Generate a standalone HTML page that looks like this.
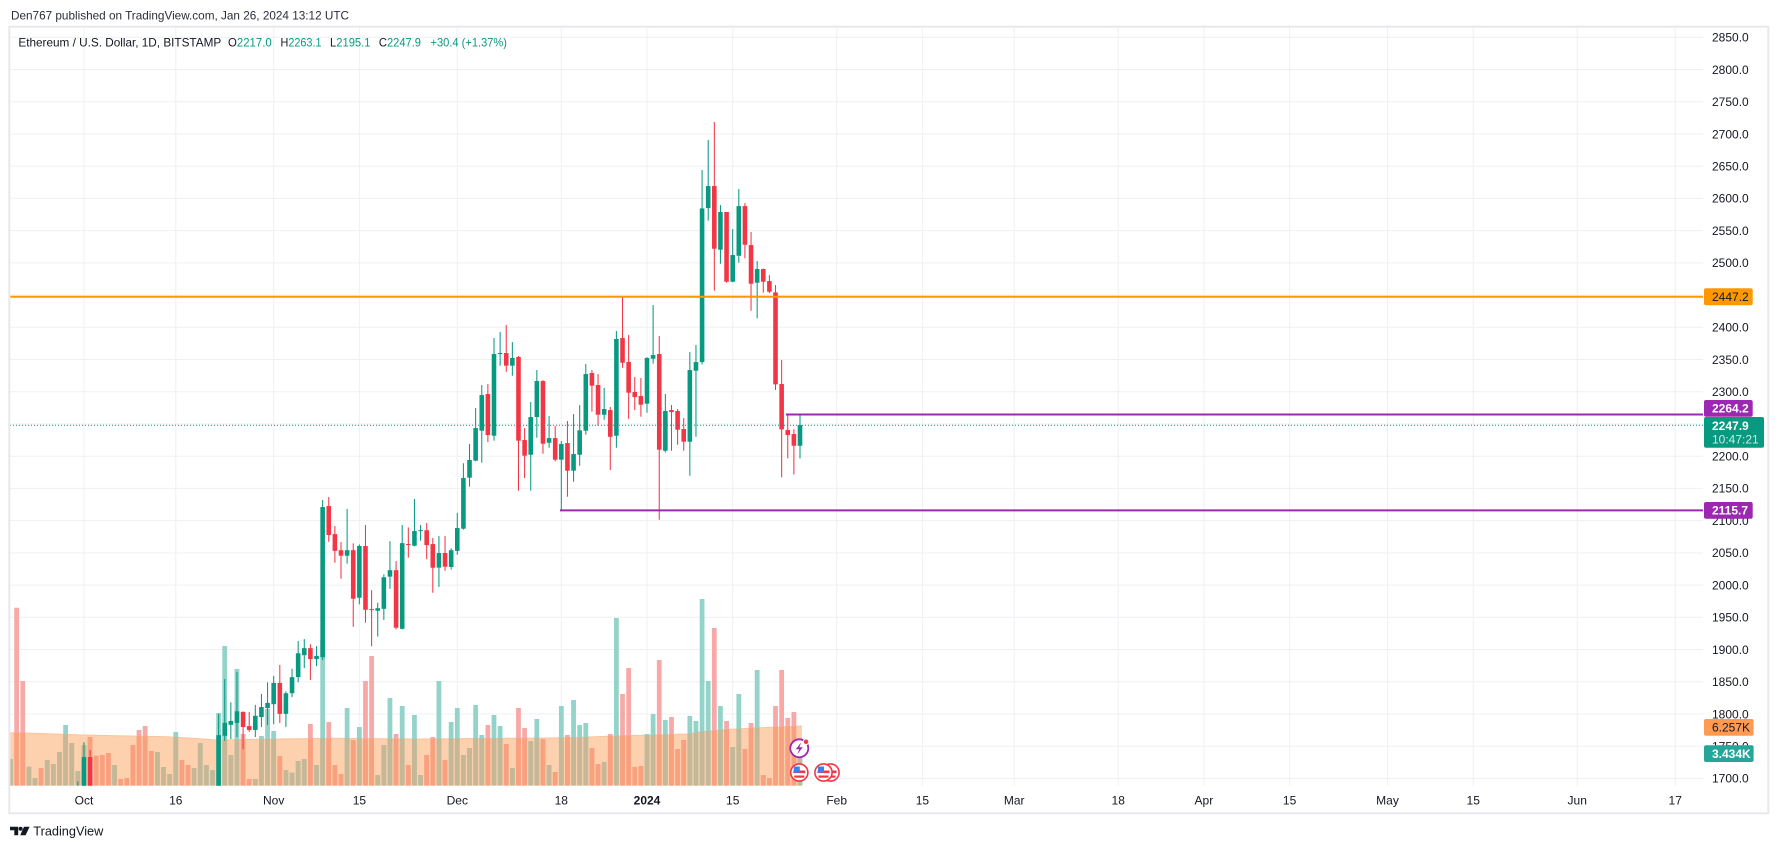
<!DOCTYPE html>
<html><head><meta charset="utf-8"><title>ETHUSD chart</title>
<style>html,body{margin:0;padding:0;background:#fff;width:1778px;height:849px;overflow:hidden}svg{display:block}</style>
</head><body>
<svg xmlns="http://www.w3.org/2000/svg" width="1778" height="849" viewBox="0 0 1778 849" font-family="'Liberation Sans', Arial, sans-serif">
<defs>
<clipPath id="plot"><rect x="10.3" y="27.7" width="1692.7" height="758"/></clipPath>
<clipPath id="areaClip"><polygon points="10,732.7 40,733.5 83,735 130,736 167,736.7 207,739.3 216,740 260,739.3 300,738.7 330,738.3 380,738.8 420,739 480,738.5 553,738 590,737 613,736 653,735 687,734 700,732 720,730 753,728 780,727 802,726 802,785.7 10,785.7"/></clipPath>
<g id="vT" transform="matrix(6.12,0,0,1,800,0)">
<rect x="-129.39" y="759" width=".78" height="26.7"/><rect x="-126.39" y="766.7" width=".78" height="19"/><rect x="-125.39" y="778" width=".78" height="7.7"/><rect x="-123.39" y="760" width=".78" height="25.7"/><rect x="-122.39" y="764" width=".78" height="21.7"/><rect x="-121.39" y="752" width=".78" height="33.7"/><rect x="-120.39" y="725" width=".78" height="60.7"/><rect x="-119.39" y="743" width=".78" height="42.7"/><rect x="-118.39" y="771" width=".78" height="14.7"/><rect x="-117.39" y="745" width=".78" height="40.7"/><rect x="-112.39" y="765" width=".78" height="20.7"/><rect x="-105.39" y="752" width=".78" height="33.7"/><rect x="-104.39" y="767" width=".78" height="18.7"/><rect x="-103.39" y="774" width=".78" height="11.7"/><rect x="-102.39" y="732" width=".78" height="53.7"/><rect x="-99.39" y="768" width=".78" height="17.7"/><rect x="-98.39" y="743" width=".78" height="42.7"/><rect x="-97.39" y="765" width=".78" height="20.7"/><rect x="-96.39" y="770" width=".78" height="15.7"/><rect x="-95.39" y="713" width=".78" height="72.7"/><rect x="-94.39" y="646" width=".78" height="139.7"/><rect x="-93.39" y="755" width=".78" height="30.7"/><rect x="-92.39" y="669" width=".78" height="116.7"/><rect x="-89.39" y="779" width=".78" height="6.7"/><rect x="-88.39" y="736" width=".78" height="49.7"/><rect x="-87.39" y="709" width=".78" height="76.7"/><rect x="-86.39" y="731" width=".78" height="54.7"/><rect x="-84.39" y="770" width=".78" height="15.7"/><rect x="-83.39" y="772.7" width=".78" height="13"/><rect x="-82.39" y="761" width=".78" height="24.7"/><rect x="-81.39" y="759" width=".78" height="26.7"/><rect x="-79.39" y="765" width=".78" height="20.7"/><rect x="-78.39" y="640" width=".78" height="145.7"/><rect x="-74.39" y="708" width=".78" height="77.7"/><rect x="-72.39" y="727" width=".78" height="58.7"/><rect x="-69.39" y="775" width=".78" height="10.7"/><rect x="-68.39" y="745" width=".78" height="40.7"/><rect x="-67.39" y="698" width=".78" height="87.7"/><rect x="-65.39" y="706" width=".78" height="79.7"/><rect x="-63.39" y="715" width=".78" height="70.7"/><rect x="-62.39" y="775" width=".78" height="10.7"/><rect x="-59.39" y="681" width=".78" height="104.7"/><rect x="-57.39" y="722" width=".78" height="63.7"/><rect x="-56.39" y="708" width=".78" height="77.7"/><rect x="-55.39" y="755" width=".78" height="30.7"/><rect x="-54.39" y="748" width=".78" height="37.7"/><rect x="-53.39" y="705" width=".78" height="80.7"/><rect x="-52.39" y="735" width=".78" height="50.7"/><rect x="-50.39" y="715" width=".78" height="70.7"/><rect x="-49.39" y="726" width=".78" height="59.7"/><rect x="-47.39" y="768" width=".78" height="17.7"/><rect x="-44.39" y="741" width=".78" height="44.7"/><rect x="-43.39" y="719" width=".78" height="66.7"/><rect x="-41.39" y="765" width=".78" height="20.7"/><rect x="-39.39" y="706" width=".78" height="79.7"/><rect x="-37.39" y="700" width=".78" height="85.7"/><rect x="-36.39" y="725" width=".78" height="60.7"/><rect x="-35.39" y="723" width=".78" height="62.7"/><rect x="-32.39" y="762" width=".78" height="23.7"/><rect x="-30.39" y="618" width=".78" height="167.7"/><rect x="-25.39" y="734" width=".78" height="51.7"/><rect x="-24.39" y="714" width=".78" height="71.7"/><rect x="-22.39" y="720" width=".78" height="65.7"/><rect x="-18.39" y="716" width=".78" height="69.7"/><rect x="-17.39" y="721" width=".78" height="64.7"/><rect x="-16.39" y="599" width=".78" height="186.7"/><rect x="-15.39" y="681" width=".78" height="104.7"/><rect x="-13.39" y="706" width=".78" height="79.7"/><rect x="-11.39" y="747" width=".78" height="38.7"/><rect x="-10.39" y="694" width=".78" height="91.7"/><rect x="-7.39" y="670" width=".78" height="115.7"/><rect x="-0.39" y="753.5" width=".78" height="32.2"/>
</g>
<g id="vR" transform="matrix(6.12,0,0,1,800,0)">
<rect x="-128.39" y="607.7" width=".78" height="178"/><rect x="-127.39" y="681" width=".78" height="104.7"/><rect x="-124.39" y="768" width=".78" height="17.7"/><rect x="-116.39" y="737" width=".78" height="48.7"/><rect x="-115.39" y="755.7" width=".78" height="30"/><rect x="-114.39" y="755" width=".78" height="30.7"/><rect x="-113.39" y="753" width=".78" height="32.7"/><rect x="-111.39" y="779" width=".78" height="6.7"/><rect x="-110.39" y="778" width=".78" height="7.7"/><rect x="-109.39" y="745" width=".78" height="40.7"/><rect x="-108.39" y="730" width=".78" height="55.7"/><rect x="-107.39" y="726" width=".78" height="59.7"/><rect x="-106.39" y="751" width=".78" height="34.7"/><rect x="-101.39" y="760" width=".78" height="25.7"/><rect x="-100.39" y="765" width=".78" height="20.7"/><rect x="-91.39" y="734" width=".78" height="51.7"/><rect x="-90.39" y="779" width=".78" height="6.7"/><rect x="-85.39" y="756" width=".78" height="29.7"/><rect x="-80.39" y="724" width=".78" height="61.7"/><rect x="-77.39" y="722" width=".78" height="63.7"/><rect x="-76.39" y="765" width=".78" height="20.7"/><rect x="-75.39" y="774" width=".78" height="11.7"/><rect x="-73.39" y="740" width=".78" height="45.7"/><rect x="-71.39" y="681" width=".78" height="104.7"/><rect x="-70.39" y="656" width=".78" height="129.7"/><rect x="-66.39" y="734" width=".78" height="51.7"/><rect x="-64.39" y="765" width=".78" height="20.7"/><rect x="-61.39" y="755" width=".78" height="30.7"/><rect x="-60.39" y="737" width=".78" height="48.7"/><rect x="-58.39" y="760" width=".78" height="25.7"/><rect x="-51.39" y="725" width=".78" height="60.7"/><rect x="-48.39" y="744" width=".78" height="41.7"/><rect x="-46.39" y="708" width=".78" height="77.7"/><rect x="-45.39" y="728" width=".78" height="57.7"/><rect x="-42.39" y="739" width=".78" height="46.7"/><rect x="-40.39" y="772" width=".78" height="13.7"/><rect x="-38.39" y="735" width=".78" height="50.7"/><rect x="-34.39" y="748" width=".78" height="37.7"/><rect x="-33.39" y="764" width=".78" height="21.7"/><rect x="-31.39" y="734" width=".78" height="51.7"/><rect x="-29.39" y="694" width=".78" height="91.7"/><rect x="-28.39" y="668" width=".78" height="117.7"/><rect x="-27.39" y="767" width=".78" height="18.7"/><rect x="-26.39" y="766" width=".78" height="19.7"/><rect x="-23.39" y="660" width=".78" height="125.7"/><rect x="-21.39" y="717" width=".78" height="68.7"/><rect x="-20.39" y="749" width=".78" height="36.7"/><rect x="-19.39" y="740" width=".78" height="45.7"/><rect x="-14.39" y="628" width=".78" height="157.7"/><rect x="-12.39" y="721" width=".78" height="64.7"/><rect x="-9.39" y="749" width=".78" height="36.7"/><rect x="-8.39" y="723" width=".78" height="62.7"/><rect x="-6.39" y="775" width=".78" height="10.7"/><rect x="-5.39" y="778" width=".78" height="7.7"/><rect x="-4.39" y="706" width=".78" height="79.7"/><rect x="-3.39" y="670" width=".78" height="115.7"/><rect x="-2.39" y="718" width=".78" height="67.7"/><rect x="-1.39" y="712" width=".78" height="73.7"/>
</g>
</defs>

<rect x="0" y="0" width="1778" height="849" fill="#ffffff"/>

<!-- header -->
<text x="11" y="19.3" font-size="12" fill="#2a2e39" textLength="338" lengthAdjust="spacingAndGlyphs">Den767 published on TradingView.com, Jan 26, 2024 13:12 UTC</text>

<!-- grid -->
<g stroke="#eef0f4" stroke-width="1">
<line x1="10" x2="1703" y1="37.3" y2="37.3"/><line x1="10" x2="1703" y1="69.5" y2="69.5"/><line x1="10" x2="1703" y1="101.8" y2="101.8"/><line x1="10" x2="1703" y1="134" y2="134"/><line x1="10" x2="1703" y1="166.2" y2="166.2"/><line x1="10" x2="1703" y1="198.4" y2="198.4"/><line x1="10" x2="1703" y1="230.6" y2="230.6"/><line x1="10" x2="1703" y1="262.9" y2="262.9"/><line x1="10" x2="1703" y1="295.1" y2="295.1"/><line x1="10" x2="1703" y1="327.3" y2="327.3"/><line x1="10" x2="1703" y1="359.5" y2="359.5"/><line x1="10" x2="1703" y1="391.7" y2="391.7"/><line x1="10" x2="1703" y1="424" y2="424"/><line x1="10" x2="1703" y1="456.2" y2="456.2"/><line x1="10" x2="1703" y1="488.4" y2="488.4"/><line x1="10" x2="1703" y1="520.6" y2="520.6"/><line x1="10" x2="1703" y1="552.9" y2="552.9"/><line x1="10" x2="1703" y1="585.1" y2="585.1"/><line x1="10" x2="1703" y1="617.3" y2="617.3"/><line x1="10" x2="1703" y1="649.5" y2="649.5"/><line x1="10" x2="1703" y1="681.7" y2="681.7"/><line x1="10" x2="1703" y1="714" y2="714"/><line x1="10" x2="1703" y1="746.2" y2="746.2"/><line x1="10" x2="1703" y1="778.4" y2="778.4"/>
<line x1="84" x2="84" y1="27.7" y2="785.7"/><line x1="175.8" x2="175.8" y1="27.7" y2="785.7"/><line x1="273.7" x2="273.7" y1="27.7" y2="785.7"/><line x1="359.4" x2="359.4" y1="27.7" y2="785.7"/><line x1="457.3" x2="457.3" y1="27.7" y2="785.7"/><line x1="561.3" x2="561.3" y1="27.7" y2="785.7"/><line x1="647" x2="647" y1="27.7" y2="785.7"/><line x1="732.7" x2="732.7" y1="27.7" y2="785.7"/><line x1="836.7" x2="836.7" y1="27.7" y2="785.7"/><line x1="922.4" x2="922.4" y1="27.7" y2="785.7"/><line x1="1014.2" x2="1014.2" y1="27.7" y2="785.7"/><line x1="1118.2" x2="1118.2" y1="27.7" y2="785.7"/><line x1="1203.9" x2="1203.9" y1="27.7" y2="785.7"/><line x1="1289.6" x2="1289.6" y1="27.7" y2="785.7"/><line x1="1387.5" x2="1387.5" y1="27.7" y2="785.7"/><line x1="1473.2" x2="1473.2" y1="27.7" y2="785.7"/><line x1="1577.2" x2="1577.2" y1="27.7" y2="785.7"/><line x1="1675.2" x2="1675.2" y1="27.7" y2="785.7"/>
</g>

<!-- legend -->
<g font-size="12">
<text x="18.4" y="46.6" fill="#131722" textLength="202.8" lengthAdjust="spacingAndGlyphs">Ethereum / U.S. Dollar, 1D, BITSTAMP</text>
<text x="228" y="46.6" fill="#131722" textLength="43.7" lengthAdjust="spacingAndGlyphs">O<tspan fill="#089981">2217.0</tspan></text>
<text x="280.5" y="46.6" fill="#131722" textLength="41" lengthAdjust="spacingAndGlyphs">H<tspan fill="#089981">2263.1</tspan></text>
<text x="330" y="46.6" fill="#131722" textLength="40.5" lengthAdjust="spacingAndGlyphs">L<tspan fill="#089981">2195.1</tspan></text>
<text x="378.9" y="46.6" fill="#131722" textLength="42.1" lengthAdjust="spacingAndGlyphs">C<tspan fill="#089981">2247.9</tspan></text>
<text x="430.5" y="46.6" fill="#089981" textLength="76.5" lengthAdjust="spacingAndGlyphs">+30.4 (+1.37%)</text>
</g>

<g clip-path="url(#plot)">
<!-- volume MA area -->
<polygon points="10,732.7 40,733.5 83,735 130,736 167,736.7 207,739.3 216,740 260,739.3 300,738.7 330,738.3 380,738.8 420,739 480,738.5 553,738 590,737 613,736 653,735 687,734 700,732 720,730 753,728 780,727 802,726 802,785.7 10,785.7" fill="#fdd1ae"/>
<polyline points="10,732.7 40,733.5 83,735 130,736 167,736.7 207,739.3 216,740 260,739.3 300,738.7 330,738.3 380,738.8 420,739 480,738.5 553,738 590,737 613,736 653,735 687,734 700,732 720,730 753,728 780,727 802,726" fill="none" stroke="#fbc39a" stroke-width="1"/>
<!-- volume bars -->
<use href="#vT" fill="#93d3c9"/>
<use href="#vR" fill="#f7a9a7"/>
<g clip-path="url(#areaClip)">
<use href="#vT" fill="#c6b796"/>
<use href="#vR" fill="#f9a07e"/>
</g>

<!-- candles -->
<g transform="matrix(6.12,0,0,-0.6443,800,1873.6)">
<g fill="#089981">
<rect x="-118.085" y="1650" width=".17" height="45"/>
<rect x="-117.085" y="1665" width=".17" height="91"/><rect x="-117.375" y="1671" width=".75" height="62"/>
<rect x="-95.085" y="1655" width=".17" height="145"/><rect x="-95.375" y="1662" width=".75" height="105"/>
<rect x="-94.085" y="1758" width=".17" height="96"/><rect x="-94.375" y="1766" width=".75" height="20"/>
<rect x="-93.085" y="1761" width=".17" height="57"/><rect x="-93.375" y="1783" width=".75" height="6"/>
<rect x="-92.085" y="1764" width=".17" height="101"/><rect x="-92.375" y="1786" width=".75" height="18"/>
<rect x="-89.085" y="1764" width=".17" height="50"/><rect x="-89.375" y="1775" width=".75" height="22"/>
<rect x="-88.085" y="1779.5" width=".17" height="51.5"/><rect x="-88.375" y="1795" width=".75" height="15.6"/>
<rect x="-87.085" y="1782.6" width=".17" height="66.4"/><rect x="-87.375" y="1809" width=".75" height="8"/>
<rect x="-86.085" y="1784" width=".17" height="75"/><rect x="-86.375" y="1815" width=".75" height="33"/>
<rect x="-84.085" y="1779.5" width=".17" height="55.5"/><rect x="-84.375" y="1800" width=".75" height="32"/>
<rect x="-83.085" y="1826" width=".17" height="44"/><rect x="-83.375" y="1832" width=".75" height="25"/>
<rect x="-82.085" y="1849" width=".17" height="64"/><rect x="-82.375" y="1857" width=".75" height="37"/>
<rect x="-81.085" y="1871" width=".17" height="45"/><rect x="-81.375" y="1891" width=".75" height="11"/>
<rect x="-79.085" y="1874" width=".17" height="31"/><rect x="-79.375" y="1885" width=".75" height="5"/>
<rect x="-78.085" y="1883.5" width=".17" height="248.5"/><rect x="-78.375" y="1888" width=".75" height="233"/>
<rect x="-74.085" y="2033" width=".17" height="85"/><rect x="-74.375" y="2045.5" width=".75" height="8.5"/>
<rect x="-72.085" y="1970" width=".17" height="93"/><rect x="-72.375" y="1980.3" width=".75" height="80.2"/>
<rect x="-69.085" y="1920" width=".17" height="52.5"/><rect x="-69.375" y="1960" width=".75" height="4"/>
<rect x="-68.085" y="1945.6" width=".17" height="70.9"/><rect x="-68.375" y="1963" width=".75" height="49"/>
<rect x="-67.085" y="1994" width=".17" height="74"/><rect x="-67.375" y="2013" width=".75" height="10"/>
<rect x="-65.085" y="1931" width=".17" height="162"/><rect x="-65.375" y="1932" width=".75" height="133"/>
<rect x="-63.085" y="2060" width=".17" height="73.4"/><rect x="-63.375" y="2061" width=".75" height="22.7"/>
<rect x="-62.085" y="2068.7" width=".17" height="24.3"/><rect x="-62.375" y="2083.5" width=".75" height="1.6"/>
<rect x="-59.085" y="1997" width=".17" height="79"/><rect x="-59.375" y="2027" width=".75" height="22.6"/>
<rect x="-57.085" y="2024" width=".17" height="33"/><rect x="-57.375" y="2028" width=".75" height="26"/>
<rect x="-56.085" y="2047" width=".17" height="65"/><rect x="-56.375" y="2053" width=".75" height="35.4"/>
<rect x="-55.085" y="2086" width=".17" height="103"/><rect x="-55.375" y="2087.4" width=".75" height="78.6"/>
<rect x="-54.085" y="2152.6" width=".17" height="66.2"/><rect x="-54.375" y="2166.6" width=".75" height="27.4"/>
<rect x="-53.085" y="2192" width=".17" height="82.7"/><rect x="-53.375" y="2193" width=".75" height="50.6"/>
<rect x="-52.085" y="2189.8" width=".17" height="120.6"/><rect x="-52.375" y="2239.5" width=".75" height="55.3"/>
<rect x="-50.085" y="2224" width=".17" height="159.3"/><rect x="-50.375" y="2231.7" width=".75" height="126.8"/>
<rect x="-49.085" y="2340.4" width=".17" height="52.2"/><rect x="-49.375" y="2358.5" width=".75" height="1.6"/>
<rect x="-47.085" y="2324.8" width=".17" height="52.2"/><rect x="-47.375" y="2340.4" width=".75" height="11.9"/>
<rect x="-44.085" y="2146.3" width=".17" height="137.7"/><rect x="-44.375" y="2202.2" width=".75" height="58.5"/>
<rect x="-43.085" y="2228.6" width=".17" height="105"/><rect x="-43.375" y="2260.7" width=".75" height="55.9"/>
<rect x="-41.085" y="2213" width=".17" height="49.2"/><rect x="-41.375" y="2220.8" width=".75" height="7.2"/>
<rect x="-39.085" y="2116.8" width=".17" height="106.6"/><rect x="-39.375" y="2194.5" width=".75" height="24.3"/>
<rect x="-37.085" y="2160.3" width=".17" height="105"/><rect x="-37.375" y="2177.4" width=".75" height="25.9"/>
<rect x="-36.085" y="2185" width=".17" height="94.3"/><rect x="-36.375" y="2202.2" width=".75" height="37.8"/>
<rect x="-35.085" y="2233.3" width=".17" height="109.7"/><rect x="-35.375" y="2239.5" width=".75" height="87.9"/>
<rect x="-32.085" y="2256.5" width=".17" height="49.2"/><rect x="-32.375" y="2264.3" width=".75" height="8.8"/>
<rect x="-30.085" y="2213" width=".17" height="181.2"/><rect x="-30.375" y="2231.7" width=".75" height="150.1"/>
<rect x="-25.085" y="2267.4" width=".17" height="86.4"/><rect x="-25.375" y="2281.4" width=".75" height="70.9"/>
<rect x="-24.085" y="2343.5" width=".17" height="91"/><rect x="-24.375" y="2351.2" width=".75" height="5.7"/>
<rect x="-22.085" y="2205.8" width=".17" height="90.6"/><rect x="-22.375" y="2208.4" width=".75" height="61.6"/>
<rect x="-18.085" y="2169.6" width=".17" height="191.9"/><rect x="-18.375" y="2222.4" width=".75" height="111.2"/>
<rect x="-17.085" y="2230.1" width=".17" height="142.3"/><rect x="-17.375" y="2332.6" width=".75" height="13.4"/>
<rect x="-16.085" y="2342.4" width=".17" height="301.6"/><rect x="-16.375" y="2346" width=".75" height="238.5"/>
<rect x="-15.085" y="2565.4" width=".17" height="125.2"/><rect x="-15.375" y="2585" width=".75" height="34.2"/>
<rect x="-13.085" y="2498.6" width=".17" height="91.1"/><rect x="-13.375" y="2520.4" width=".75" height="58.5"/>
<rect x="-11.085" y="2470" width=".17" height="82.4"/><rect x="-11.375" y="2470.7" width=".75" height="41.4"/>
<rect x="-10.085" y="2500.2" width=".17" height="114.3"/><rect x="-10.375" y="2511" width=".75" height="77.1"/>
<rect x="-7.085" y="2413.8" width=".17" height="89"/><rect x="-7.375" y="2469.2" width=".75" height="21.2"/>
<rect x="-0.085" y="2196.5" width=".17" height="68.8"/><rect x="-0.375" y="2216.1" width=".75" height="32.1"/>
</g>
<g fill="#f23645">
<rect x="-116.085" y="1655" width=".17" height="89"/><rect x="-116.375" y="1663" width=".75" height="70"/>
<rect x="-91.085" y="1745" width=".17" height="59"/><rect x="-91.375" y="1779.5" width=".75" height="23.5"/>
<rect x="-90.085" y="1772" width=".17" height="31"/><rect x="-90.375" y="1775" width=".75" height="6"/>
<rect x="-85.085" y="1786" width=".17" height="90"/><rect x="-85.375" y="1800" width=".75" height="48"/>
<rect x="-80.085" y="1852.5" width=".17" height="55.5"/><rect x="-80.375" y="1885" width=".75" height="17"/>
<rect x="-77.085" y="2067" width=".17" height="69.5"/><rect x="-77.375" y="2077.5" width=".75" height="45"/>
<rect x="-76.085" y="2034.6" width=".17" height="56.9"/><rect x="-76.375" y="2053" width=".75" height="26"/>
<rect x="-75.085" y="2009.8" width=".17" height="56.9"/><rect x="-75.375" y="2045.5" width=".75" height="8.5"/>
<rect x="-73.085" y="1935" width=".17" height="129.6"/><rect x="-73.375" y="1978.7" width=".75" height="75.3"/>
<rect x="-71.085" y="1941.5" width=".17" height="151.5"/><rect x="-71.375" y="1961.6" width=".75" height="98.9"/>
<rect x="-70.085" y="1905" width=".17" height="87"/><rect x="-70.375" y="1961" width=".75" height="1.6"/>
<rect x="-66.085" y="1931" width=".17" height="106"/><rect x="-66.375" y="1933.7" width=".75" height="89.3"/>
<rect x="-64.085" y="2042.4" width=".17" height="47"/><rect x="-64.375" y="2062" width=".75" height="1.6"/>
<rect x="-61.085" y="2040" width=".17" height="56"/><rect x="-61.375" y="2062" width=".75" height="23"/>
<rect x="-60.085" y="1988" width=".17" height="85"/><rect x="-60.375" y="2026.8" width=".75" height="36.7"/>
<rect x="-58.085" y="2022" width=".17" height="54"/><rect x="-58.375" y="2028.4" width=".75" height="21.2"/>
<rect x="-51.085" y="2221.9" width=".17" height="90"/><rect x="-51.375" y="2232.7" width=".75" height="63.7"/>
<rect x="-48.085" y="2331" width=".17" height="72.5"/><rect x="-48.375" y="2340.4" width=".75" height="19.6"/>
<rect x="-46.085" y="2146.3" width=".17" height="209.1"/><rect x="-46.375" y="2224" width=".75" height="129.8"/>
<rect x="-45.085" y="2166" width=".17" height="77.6"/><rect x="-45.375" y="2200.7" width=".75" height="24.3"/>
<rect x="-42.085" y="2203.8" width=".17" height="114.2"/><rect x="-42.375" y="2219.3" width=".75" height="97.3"/>
<rect x="-40.085" y="2191.9" width=".17" height="54.8"/><rect x="-40.375" y="2194.5" width=".75" height="33.5"/>
<rect x="-38.085" y="2137" width=".17" height="117.5"/><rect x="-38.375" y="2177.4" width=".75" height="42.9"/>
<rect x="-34.085" y="2269" width=".17" height="64.6"/><rect x="-34.375" y="2309.3" width=".75" height="19.7"/>
<rect x="-33.085" y="2247.2" width=".17" height="80.2"/><rect x="-33.375" y="2264.3" width=".75" height="46.1"/>
<rect x="-31.085" y="2178.4" width=".17" height="97.8"/><rect x="-31.375" y="2230" width=".75" height="41.5"/>
<rect x="-29.085" y="2337.2" width=".17" height="110.3"/><rect x="-29.375" y="2345" width=".75" height="38.3"/>
<rect x="-28.085" y="2258" width=".17" height="130"/><rect x="-28.375" y="2298.5" width=".75" height="47.5"/>
<rect x="-27.085" y="2271.5" width=".17" height="51.3"/><rect x="-27.375" y="2291.7" width=".75" height="7.8"/>
<rect x="-26.085" y="2261.2" width=".17" height="60"/><rect x="-26.375" y="2279.8" width=".75" height="13.5"/>
<rect x="-23.085" y="2101.3" width=".17" height="285.1"/><rect x="-23.375" y="2210" width=".75" height="148.5"/>
<rect x="-21.085" y="2208.4" width=".17" height="70.9"/><rect x="-21.375" y="2268.4" width=".75" height="3.1"/>
<rect x="-20.085" y="2217.7" width=".17" height="55.4"/><rect x="-20.375" y="2241" width=".75" height="29"/>
<rect x="-19.085" y="2208.4" width=".17" height="50.7"/><rect x="-19.375" y="2222.4" width=".75" height="19.6"/>
<rect x="-14.085" y="2456.7" width=".17" height="261.8"/><rect x="-14.375" y="2521.9" width=".75" height="97.3"/>
<rect x="-12.085" y="2469.2" width=".17" height="109.8"/><rect x="-12.375" y="2470.7" width=".75" height="108.2"/>
<rect x="-9.085" y="2507" width=".17" height="85.8"/><rect x="-9.375" y="2528.1" width=".75" height="60"/>
<rect x="-8.085" y="2425.7" width=".17" height="122.1"/><rect x="-8.375" y="2467.6" width=".75" height="60"/>
<rect x="-6.085" y="2453.6" width=".17" height="37.4"/><rect x="-6.375" y="2470.7" width=".75" height="19.7"/>
<rect x="-5.085" y="2453.1" width=".17" height="27.9"/><rect x="-5.375" y="2455.2" width=".75" height="16.5"/>
<rect x="-4.085" y="2302.6" width=".17" height="162.9"/><rect x="-4.375" y="2311.4" width=".75" height="142.7"/>
<rect x="-3.085" y="2167" width=".17" height="182.1"/><rect x="-3.375" y="2241.5" width=".75" height="70.4"/>
<rect x="-2.085" y="2196.5" width=".17" height="67.3"/><rect x="-2.375" y="2232.7" width=".75" height="7.8"/>
<rect x="-1.085" y="2171.6" width=".17" height="70.4"/><rect x="-1.375" y="2216.1" width=".75" height="18.2"/>
</g>
</g>

<!-- horizontal lines -->
<line x1="10" x2="1703" y1="425.2" y2="425.2" stroke="#089981" stroke-width="1" stroke-dasharray="1 2"/>
<line x1="10" x2="1703" y1="296.8" y2="296.8" stroke="#ff9800" stroke-width="2"/>
<line x1="786" x2="1703" y1="414.5" y2="414.5" stroke="#9c27b0" stroke-width="2"/>
<line x1="560" x2="1703" y1="510.4" y2="510.4" stroke="#9c27b0" stroke-width="2"/>

<!-- event icons -->
<circle cx="830.5" cy="772.5" r="8.6" fill="#fff" stroke="#f23645" stroke-width="1.6"/>
<rect x="824.5" y="770.5" width="12" height="2.6" fill="#f23645"/><rect x="825.5" y="775.5" width="10" height="2.2" fill="#f23645"/>
<g>
<circle cx="823.5" cy="772.5" r="8.6" fill="#fff" stroke="#f23645" stroke-width="1.6"/>
<rect x="817.5" y="770.5" width="12" height="2.6" fill="#f23645"/><rect x="818.5" y="775.5" width="10" height="2.2" fill="#f23645"/>
<rect x="818" y="766.5" width="6" height="6" fill="#3d7ff0"/>
</g>
<circle cx="799.3" cy="772.5" r="8.6" fill="#fff" stroke="#f23645" stroke-width="1.6"/>
<rect x="793.3" y="770.5" width="12" height="2.6" fill="#f23645"/><rect x="794.3" y="775.5" width="10" height="2.2" fill="#f23645"/>
<rect x="793.8" y="766.5" width="6" height="6" fill="#3d7ff0"/>
<circle cx="799.3" cy="748.3" r="9" fill="#fff" stroke="#9c27b0" stroke-width="1.8"/>
<path d="M801.2,742.3 L795.8,749.3 H799.3 L797.3,754.3 L802.8,747.2 H799.4 Z" fill="#9c27b0"/>
<circle cx="806" cy="741.8" r="2.8" fill="#f23645" stroke="#fff" stroke-width="1"/>
</g>

<!-- price axis labels -->
<g font-size="12" fill="#131722">
<text x="1712" y="41.6">2850.0</text><text x="1712" y="73.8">2800.0</text><text x="1712" y="106.1">2750.0</text><text x="1712" y="138.3">2700.0</text><text x="1712" y="170.5">2650.0</text><text x="1712" y="202.7">2600.0</text><text x="1712" y="234.9">2550.0</text><text x="1712" y="267.2">2500.0</text><text x="1712" y="299.4">2450.0</text><text x="1712" y="331.6">2400.0</text><text x="1712" y="363.8">2350.0</text><text x="1712" y="396">2300.0</text><text x="1712" y="428.3">2250.0</text><text x="1712" y="460.5">2200.0</text><text x="1712" y="492.7">2150.0</text><text x="1712" y="524.9">2100.0</text><text x="1712" y="557.2">2050.0</text><text x="1712" y="589.4">2000.0</text><text x="1712" y="621.6">1950.0</text><text x="1712" y="653.8">1900.0</text><text x="1712" y="686">1850.0</text><text x="1712" y="718.3">1800.0</text><text x="1712" y="750.5">1750.0</text><text x="1712" y="782.7">1700.0</text>
</g>

<!-- badges -->
<rect x="1704" y="288.3" width="48.7" height="17" rx="2" fill="#ff9800"/>
<text x="1712" y="301.1" font-size="12" fill="#131722">2447.2</text>
<rect x="1704" y="400" width="48.7" height="16.7" rx="2" fill="#9c27b0"/>
<text x="1712" y="412.6" font-size="12" font-weight="bold" fill="#fff">2264.2</text>
<rect x="1704" y="417" width="60" height="30.7" rx="2" fill="#089981"/>
<text x="1712" y="430" font-size="12" font-weight="bold" fill="#fff">2247.9</text>
<text x="1712" y="443.6" font-size="12" fill="#fff" fill-opacity="0.8">10:47:21</text>
<rect x="1704" y="502" width="48.7" height="16.7" rx="2" fill="#9c27b0"/>
<text x="1712" y="514.6" font-size="12" font-weight="bold" fill="#fff">2115.7</text>
<rect x="1704" y="719" width="49.6" height="16.7" rx="2" fill="#ff9a52"/>
<text x="1712" y="731.6" font-size="12" fill="#131722">6.257K</text>
<rect x="1704" y="745.3" width="49.6" height="16.7" rx="2" fill="#26a69a"/>
<text x="1712" y="757.9" font-size="12" font-weight="bold" fill="#fff">3.434K</text>

<!-- time axis -->
<g font-size="12" fill="#131722" text-anchor="middle">
<text x="84" y="804.3">Oct</text><text x="175.8" y="804.3">16</text><text x="273.7" y="804.3">Nov</text><text x="359.4" y="804.3">15</text><text x="457.3" y="804.3">Dec</text><text x="561.3" y="804.3">18</text><text x="647" y="804.3" font-weight="bold">2024</text><text x="732.7" y="804.3">15</text><text x="836.7" y="804.3">Feb</text><text x="922.4" y="804.3">15</text><text x="1014.2" y="804.3">Mar</text><text x="1118.2" y="804.3">18</text><text x="1203.9" y="804.3">Apr</text><text x="1289.6" y="804.3">15</text><text x="1387.5" y="804.3">May</text><text x="1473.2" y="804.3">15</text><text x="1577.2" y="804.3">Jun</text><text x="1675.2" y="804.3">17</text>
</g>

<!-- frame -->
<rect x="9.3" y="26.7" width="1759" height="786.6" fill="none" stroke="#e6e8ee" stroke-width="2"/>

<!-- footer logo -->
<g fill="#131722">
<path d="M10,826.8 H18.2 V835.2 H14.3 V830.3 H10 Z"/>
<circle cx="20.6" cy="828.8" r="2"/>
<path d="M24,826.8 H29.6 L25.6,835.2 H20.2 Z"/>
</g>
<text x="33.3" y="835.6" font-size="13" fill="#131722" textLength="70" lengthAdjust="spacingAndGlyphs">TradingView</text>
</svg>
</body></html>
